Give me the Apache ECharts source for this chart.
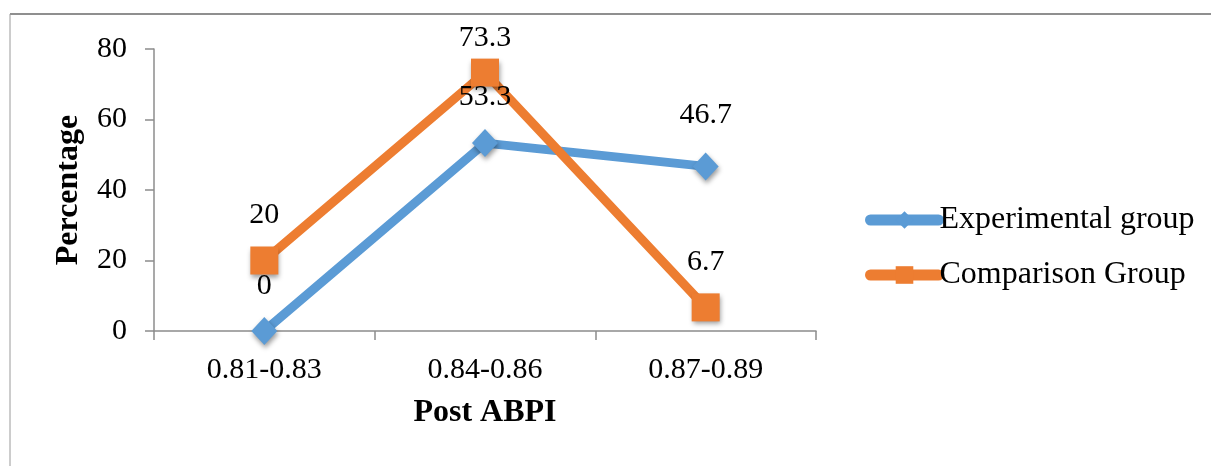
<!DOCTYPE html>
<html>
<head>
<meta charset="utf-8">
<script src="https://cdn.jsdelivr.net/npm/echarts@6/dist/echarts.min.js"></script>
<style>
  html, body { margin: 0; padding: 0; background: #fff; }
  #chart { width: 1211px; height: 466px; }
</style>
</head>
<body>
<div id="chart"></div>
<script>
// Post ABPI distribution by group (percent)
const categories = ['0.81-0.83', '0.84-0.86', '0.87-0.89'];
const experimental = [0, 53.3, 46.7];
const comparison = [20, 73.3, 6.7];
const yTicks = { min: 0, max: 80, interval: 20 };

const FONT = '"Liberation Serif", "Times New Roman", serif';
const BLUE = '#5B9BD5';
const ORANGE = '#ED7D31';
const AXIS = '#8C8C8C';

const markerShadow = {
  shadowBlur: 5,
  shadowOffsetX: 1,
  shadowOffsetY: 3,
  shadowColor: 'rgba(0,0,0,0.4)'
};

const labelStyle = { show: true, position: 'top', fontFamily: FONT, fontSize: 30, color: '#000' };

function withLabels(values, distances) {
  return values.map((v, i) => ({
    value: v,
    label: { distance: distances[i] }
  }));
}

const chart = echarts.init(document.getElementById('chart'), null, { renderer: 'canvas' });

chart.setOption({
  backgroundColor: '#fff',
  animation: false,
  textStyle: { fontFamily: FONT },
  graphic: [
    { type: 'line', shape: { x1: 10, y1: 14, x2: 1211, y2: 14 }, style: { stroke: '#8F8F8F', lineWidth: 2 } },
    { type: 'line', shape: { x1: 10, y1: 14, x2: 10, y2: 466 }, style: { stroke: '#9A9A9A', lineWidth: 1 } }
  ],
  grid: { left: 154, top: 49, width: 662, height: 282, containLabel: false },
  legend: {
    orient: 'vertical',
    left: 860,
    top: 199,
    itemWidth: 68,
    itemHeight: 22,
    itemGap: 23,
    lineStyle: { width: 11, cap: 'round' },
    textStyle: { fontFamily: FONT, fontSize: 32, color: '#000', padding: [0, 0, 0, -4] },
    data: ['Experimental group', 'Comparison Group']
  },
  xAxis: {
    type: 'category',
    data: categories,
    boundaryGap: true,
    name: 'Post ABPI',
    nameLocation: 'middle',
    nameGap: 66,
    nameTextStyle: { fontFamily: FONT, fontSize: 32, fontWeight: 'bold', color: '#000' },
    axisLine: { lineStyle: { color: AXIS, width: 1.5 } },
    axisTick: { show: true, alignWithLabel: false, length: 9, lineStyle: { color: AXIS, width: 1.5 } },
    axisLabel: { fontFamily: FONT, fontSize: 30, color: '#000', margin: 24 },
    splitLine: { show: false }
  },
  yAxis: {
    type: 'value',
    min: yTicks.min,
    max: yTicks.max,
    interval: yTicks.interval,
    name: 'Percentage',
    nameLocation: 'middle',
    nameGap: 69,
    nameRotate: 90,
    nameTextStyle: { fontFamily: FONT, fontSize: 32, fontWeight: 'bold', color: '#000' },
    axisLine: { show: true, lineStyle: { color: AXIS, width: 1.5 } },
    axisTick: { show: true, length: 9, lineStyle: { color: AXIS, width: 1.5 } },
    axisLabel: { fontFamily: FONT, fontSize: 30, color: '#000', margin: 27 },
    splitLine: { show: false }
  },
  series: [
    {
      name: 'Experimental group',
      type: 'line',
      data: experimental,
      symbol: 'diamond',
      symbolSize: [26, 28],
      lineStyle: { color: BLUE, width: 9 },
      itemStyle: Object.assign({ color: BLUE }, markerShadow),
      label: { show: false },
      z: 2
    },
    {
      name: 'Comparison Group',
      type: 'line',
      data: withLabels(comparison, [16, 5, 16]),
      symbol: 'rect',
      symbolSize: 28,
      lineStyle: { color: ORANGE, width: 9 },
      itemStyle: Object.assign({ color: ORANGE }, markerShadow),
      label: labelStyle,
      z: 3
    },
    {
      // value labels of the experimental group, kept above the orange markers
      name: 'Experimental labels',
      type: 'line',
      data: withLabels(experimental, [16, 17, 22]),
      symbol: 'diamond',
      symbolSize: [26, 28],
      showSymbol: true,
      lineStyle: { width: 0, color: 'rgba(0,0,0,0)' },
      itemStyle: { color: 'rgba(0,0,0,0)' },
      label: labelStyle,
      silent: true,
      z: 5
    }
  ]
});
</script>
</body>
</html>
